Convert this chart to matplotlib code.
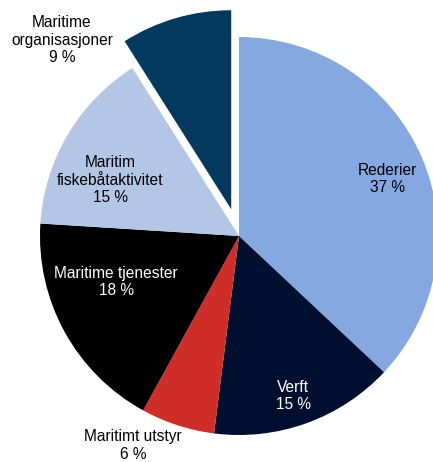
import matplotlib
matplotlib.use("Agg")
import matplotlib.pyplot as plt

# Share of maritime companies per segment (percent)
segments = ["Rederier", "Verft", "Maritimt utstyr", "Maritime tjenester",
            "Maritim\nfiskebåtaktivitet", "Maritime\norganisasjoner"]
shares = [37, 15, 6, 18, 15, 9]
colors = ["#86a8e0", "#000f30", "#cf2e28", "#000000", "#b4c6e6", "#03395e"]
explode = [0, 0, 0, 0, 0, 0.14]

# label anchor points in axes fraction, text colour
label_pos = [(0.895, 0.613), (0.677, 0.143), (0.307, 0.036),
             (0.268, 0.39), (0.255, 0.61), (0.143, 0.913)]
label_col = ["black", "white", "black", "white", "black", "black"]

plt.rcParams["font.family"] = ["Liberation Sans", "DejaVu Sans"]

fig = plt.figure(figsize=(4.33, 4.62), dpi=100)
ax = fig.add_axes([0, 0, 1, 1])

ax.pie(shares, colors=colors, explode=explode, startangle=90,
       counterclock=False, radius=1.0,
       wedgeprops=dict(linewidth=0))

r = 199.0
ax.set_xlim(-239 / r, (433 - 239) / r)
ax.set_ylim(-(462 - 236) / r, 236 / r)
ax.set_aspect("auto")
ax.axis("off")

for name, val, (x, y), c in zip(segments, shares, label_pos, label_col):
    ax.text(x, y, f"{name}\n{val} %", transform=ax.transAxes,
            ha="center", va="center", fontsize=11.2, color=c,
            linespacing=1.2)

fig.savefig("out.png", dpi=100)
